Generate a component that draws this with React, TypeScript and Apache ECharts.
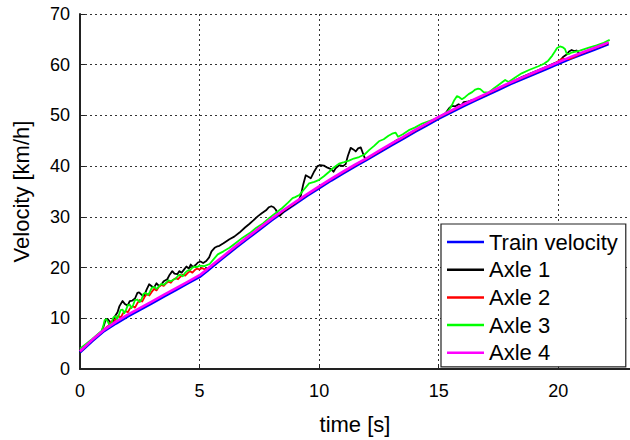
import React, { useEffect, useRef } from "react";
import * as echarts from "echarts";

const seriesNames = ["Train velocity", "Axle 1", "Axle 2", "Axle 3", "Axle 4"];
const seriesColors = ["#0000ff", "#000000", "#ff0000", "#00ff00", "#ff00ff"];
const xTicks = [0, 5, 10, 15, 20];
const yTicks = [0, 10, 20, 30, 40, 50, 60, 70];

const trainVelocity: [number, number][] = [
  [0, 3.3], [0.5, 5.5], [1, 7.5], [1.5, 9.0], [2, 10.4], [2.5, 11.7], [3, 13.0], [3.5, 14.3],
  [4, 15.6], [4.5, 16.9], [5, 18.2], [5.3, 19.3], [5.5, 20.1], [6, 22.0], [6.5, 23.9], [7, 25.7],
  [7.5, 27.5], [8, 29.3], [8.5, 31.0], [9, 32.6], [9.5, 34.2], [10, 35.7], [10.5, 37.2], [11, 38.6],
  [11.5, 40.0], [12, 41.3], [12.5, 42.7], [13, 44.1], [13.5, 45.4], [14, 46.8], [14.5, 48.1],
  [15, 49.4], [15.5, 50.6], [16, 51.8], [16.5, 52.9], [17, 54.0], [17.5, 55.1], [18, 56.2],
  [18.5, 57.2], [19, 58.2], [19.5, 59.2], [20, 60.2], [20.5, 61.2], [21, 62.1], [21.5, 63.0],
  [22, 63.9], [22.1, 64.1],
];

const axle1: [number, number][] = [
  [0, 3.5], [0.5, 5.7], [0.9, 7.3], [1.0, 8.6], [1.08, 9.8], [1.15, 9.9], [1.25, 9.3], [1.36, 9.2],
  [1.45, 10.3], [1.57, 11.2], [1.65, 12.4], [1.78, 13.4], [1.88, 12.8], [1.99, 12.5], [2.08, 13.4],
  [2.19, 13.5], [2.3, 13.9], [2.4, 15.0], [2.47, 15.1], [2.58, 14.6], [2.68, 14.4], [2.78, 15.6],
  [2.89, 16.7], [3.0, 16.3], [3.1, 16.1], [3.2, 16.9], [3.3, 16.4], [3.38, 16.5], [3.5, 17.3],
  [3.65, 17.7], [3.75, 18.6], [3.86, 19.3], [3.95, 18.8], [4.07, 18.7], [4.15, 19.3], [4.25, 19.0],
  [4.35, 19.6], [4.45, 20.2], [4.55, 19.8], [4.63, 20.6], [4.73, 20.1], [4.83, 20.5], [4.93, 21.0],
  [5.04, 21.2], [5.15, 20.9], [5.28, 21.3], [5.4, 22.0], [5.5, 23.2], [5.63, 23.9], [5.75, 24.2],
  [5.83, 24.3], [6.0, 24.8], [6.25, 25.6], [6.45, 26.1], [6.67, 26.9], [6.9, 27.9], [7.08, 28.6],
  [7.25, 29.3], [7.43, 30.1], [7.6, 30.7], [7.78, 31.3], [7.9, 31.9], [8.0, 32.1], [8.1, 31.9],
  [8.19, 31.4], [8.28, 30.5], [8.35, 30.2], [8.5, 31.0], [8.75, 31.8], [9.0, 32.7], [9.15, 33.3],
  [9.24, 34.3], [9.34, 36.5], [9.44, 38.2], [9.55, 37.9], [9.65, 37.6], [9.8, 39.0], [9.93, 40.0],
  [10.05, 40.2], [10.2, 40.1], [10.35, 39.7], [10.5, 39.4], [10.6, 38.9], [10.69, 39.6],
  [10.85, 40.2], [11.0, 40.0], [11.11, 40.4], [11.2, 42.0], [11.32, 43.6], [11.43, 43.3],
  [11.53, 42.9], [11.63, 43.5], [11.74, 43.7], [11.85, 42.3], [11.92, 41.5], [12.0, 41.5],
  [12.5, 42.9], [13.0, 44.3], [13.27, 45.2], [13.5, 45.6], [14.0, 47.0], [14.5, 48.3], [15.0, 49.6],
  [15.3, 50.5], [15.45, 51.5], [15.55, 51.9], [15.7, 51.8], [15.83, 52.2], [15.95, 52.0],
  [16.04, 52.6], [16.2, 52.7], [16.39, 53.0], [16.5, 53.1], [17.0, 54.2], [17.5, 55.3], [18.0, 56.5],
  [18.5, 57.6], [19.0, 58.6], [19.5, 59.6], [19.8, 60.2], [20.0, 60.6], [20.07, 60.8], [20.2, 61.5],
  [20.35, 62.0], [20.45, 62.6], [20.56, 62.9], [20.66, 62.7], [20.76, 62.8], [20.9, 62.2],
  [21.0, 62.3], [21.5, 63.2], [22.0, 64.0], [22.1, 64.3],
];

const axle2: [number, number][] = [
  [0, 3.5], [0.5, 5.7], [1.0, 7.8], [1.2, 8.6], [1.3, 9.4], [1.4, 9.1], [1.5, 9.9], [1.6, 10.5],
  [1.7, 10.1], [1.8, 11.0], [1.9, 11.4], [2.0, 11.2], [2.1, 12.0], [2.2, 12.4], [2.3, 12.1],
  [2.4, 13.0], [2.5, 13.6], [2.6, 13.3], [2.7, 14.2], [2.8, 14.8], [2.9, 14.5], [3.0, 15.2],
  [3.1, 15.8], [3.2, 15.5], [3.3, 16.2], [3.4, 16.6], [3.5, 16.4], [3.6, 16.9], [3.7, 17.2],
  [3.8, 17.0], [3.9, 17.6], [4.0, 17.9], [4.1, 17.7], [4.2, 18.2], [4.3, 18.6], [4.4, 18.4],
  [4.5, 18.9], [4.6, 19.3], [4.7, 19.0], [4.8, 19.5], [4.9, 19.8], [5.0, 19.6], [5.1, 19.9],
  [5.2, 19.7], [5.35, 19.8], [5.5, 20.3], [6, 22.2], [6.5, 24.1], [7, 25.9], [7.5, 27.7], [8, 29.5],
  [8.5, 31.2], [9, 32.8], [9.5, 34.4], [10, 35.9], [10.5, 37.4], [11, 38.8], [11.5, 40.2],
  [12, 41.5], [12.5, 42.9], [13, 44.3], [13.5, 45.6], [14, 47.0], [14.5, 48.3], [15, 49.6],
  [15.5, 50.8], [16, 52.0], [16.5, 53.1], [17, 54.2], [17.5, 55.3], [18, 56.4], [18.5, 57.4],
  [19, 58.4], [19.5, 59.4], [19.7, 59.8], [19.9, 60.3], [20.0, 60.7], [20.1, 61.0], [20.2, 61.2],
  [20.3, 61.1], [20.45, 61.1], [20.6, 61.4], [21, 62.3], [21.5, 63.2], [22, 64.1], [22.1, 64.3],
];

const axle3: [number, number][] = [
  [0, 4.0], [0.5, 5.9], [0.9, 7.5], [0.97, 8.4], [1.03, 9.6], [1.1, 9.8], [1.18, 9.2], [1.25, 8.4],
  [1.32, 9.2], [1.4, 10.2], [1.48, 10.4], [1.55, 9.8], [1.62, 10.6], [1.7, 11.6], [1.78, 11.7],
  [1.85, 11.0], [1.92, 11.6], [2.0, 12.6], [2.08, 12.7], [2.15, 12.0], [2.22, 12.6], [2.3, 13.6],
  [2.4, 13.7], [2.5, 13.2], [2.58, 13.8], [2.65, 14.8], [2.75, 15.0], [2.85, 14.6], [2.92, 15.2],
  [3.0, 16.0], [3.1, 16.2], [3.2, 15.8], [3.3, 16.3], [3.4, 16.8], [3.5, 16.6], [3.6, 17.0],
  [3.7, 17.5], [3.8, 17.3], [3.9, 17.6], [4.0, 17.8], [4.1, 18.4], [4.2, 18.6], [4.3, 18.3],
  [4.4, 19.0], [4.5, 19.4], [4.6, 19.5], [4.7, 20.0], [4.8, 20.2], [4.9, 20.1], [5.0, 20.4],
  [5.2, 20.3], [5.42, 20.7], [5.6, 21.7], [5.76, 22.6], [6.0, 23.2], [6.25, 23.9], [6.5, 24.8],
  [6.8, 25.9], [7.1, 26.8], [7.36, 27.8], [7.65, 28.7], [7.92, 29.8], [8.2, 30.8], [8.47, 31.8],
  [8.7, 32.8], [8.89, 33.7], [9.0, 33.9], [9.17, 34.3], [9.35, 35.3], [9.58, 36.6], [9.8, 36.9],
  [10.0, 37.3], [10.2, 38.0], [10.42, 38.9], [10.6, 39.7], [10.83, 40.5], [11.05, 40.8],
  [11.25, 41.1], [11.45, 41.5], [11.67, 41.8], [11.9, 42.3], [12.1, 43.2], [12.3, 44.0],
  [12.5, 44.9], [12.7, 45.3], [12.9, 46.0], [13.05, 46.4], [13.2, 46.6], [13.3, 45.8], [13.5, 46.3],
  [13.75, 47.1], [14.0, 47.6], [14.31, 48.4], [14.6, 48.9], [14.86, 49.3], [15.1, 49.9],
  [15.35, 50.6], [15.45, 51.2], [15.56, 52.1], [15.65, 53.0], [15.76, 53.8], [15.86, 53.6],
  [15.97, 53.2], [16.1, 53.6], [16.25, 54.2], [16.4, 54.6], [16.53, 55.1], [16.65, 55.3],
  [16.74, 55.2], [16.88, 54.6], [17.08, 54.5], [17.3, 55.3], [17.5, 56.0], [17.78, 57.0],
  [17.92, 56.6], [18.2, 57.5], [18.47, 58.3], [18.8, 59.0], [19.17, 59.7], [19.4, 60.2],
  [19.58, 60.8], [19.75, 61.8], [19.86, 62.6], [19.95, 63.3], [20.07, 63.6], [20.2, 63.4],
  [20.28, 63.1], [20.35, 62.2], [20.45, 62.1], [20.56, 62.4], [20.9, 62.8], [21.25, 63.3],
  [21.6, 63.8], [21.9, 64.3], [22.15, 64.9],
];

const axle4: [number, number][] = [
  [0, 3.5], [0.5, 5.7], [1, 7.7], [1.5, 9.3], [2, 10.7], [2.5, 12.0], [3, 13.3], [3.5, 14.6],
  [4, 15.9], [4.5, 17.2], [5, 18.5], [5.3, 19.6], [5.5, 20.4], [6, 22.3], [6.5, 24.2], [7, 26.0],
  [7.5, 27.8], [8, 29.6], [8.5, 31.3], [9, 32.9], [9.5, 34.5], [10, 36.0], [10.5, 37.5], [11, 38.9],
  [11.5, 40.3], [12, 41.6], [12.5, 43.0], [13, 44.4], [13.5, 45.7], [14, 47.1], [14.5, 48.4],
  [15, 49.7], [15.5, 50.9], [16, 52.1], [16.5, 53.2], [17, 54.3], [17.5, 55.4], [18, 56.5],
  [18.5, 57.5], [19, 58.5], [19.5, 59.5], [20, 60.5], [20.5, 61.5], [21, 62.4], [21.5, 63.3],
  [22, 64.2], [22.1, 64.4],
];

const seriesData = [trainVelocity, axle1, axle2, axle3, axle4];
const seriesWidths = [3, 1.8, 1.8, 1.8, 2.6];

const FONT = "'Liberation Sans', Arial, sans-serif";

export default function App() {
  const ref = useRef<HTMLDivElement>(null);
  useEffect(() => {
    if (!ref.current) return;
    const chart = echarts.init(ref.current, undefined, { renderer: "svg" });
    chart.setOption({
      animation: false,
      backgroundColor: "#ffffff",
      textStyle: { fontFamily: FONT },
      grid: { left: 80, top: 14, bottom: 67, right: -2, containLabel: false },
      xAxis: {
        type: "value",
        min: 0,
        max: 23,
        interval: 5,
        name: "time [s]",
        nameLocation: "middle",
        nameGap: 44,
        nameTextStyle: { color: "#000", fontSize: 22, fontFamily: FONT },
        axisLine: { show: true, lineStyle: { color: "#222", width: 2 } },
        axisTick: { show: true, inside: true, length: 5, lineStyle: { color: "#222" } },
        axisLabel: {
          color: "#000",
          fontSize: 18,
          fontFamily: FONT,
          margin: 13,
          customValues: xTicks,
        },
        splitLine: { show: true, lineStyle: { color: "#333", width: 1, type: [2, 3] } },
      },
      yAxis: {
        type: "value",
        min: 0,
        max: 70,
        interval: 10,
        name: "Velocity [km/h]",
        nameLocation: "middle",
        nameGap: 48,
        nameTextStyle: { color: "#000", fontSize: 22, fontFamily: FONT },
        axisLine: { show: true, lineStyle: { color: "#222", width: 2 } },
        axisTick: { show: true, inside: true, length: 5, lineStyle: { color: "#222" } },
        axisLabel: { color: "#000", fontSize: 18, fontFamily: FONT, margin: 10, customValues: yTicks },
        splitLine: { show: true, lineStyle: { color: "#333", width: 1, type: [2, 3] } },
      },
      legend: {
        orient: "vertical",
        left: 441,
        top: 224,
        padding: [7, 8, 3, 6],
        itemGap: 5.7,
        itemWidth: 37,
        itemHeight: 2.5,
        icon: "rect",
        backgroundColor: "#fff",
        borderColor: "#222",
        borderWidth: 1.2,
        borderRadius: 0,
        textStyle: { color: "#000", fontSize: 22, fontFamily: FONT },
        data: seriesNames,
      },
      series: seriesNames.map((name, i) => ({
        name,
        type: "line",
        data: seriesData[i],
        symbol: "none",
        showSymbol: false,
        color: seriesColors[i],
        itemStyle: { color: seriesColors[i] },
        lineStyle: { color: seriesColors[i], width: seriesWidths[i], join: "round" },
        z: 2 + i,
      })),
    });
    return () => chart.dispose();
  }, []);
  return (
    <div style={{ position: "absolute", left: 0, top: 0, width: 630, height: 440, overflow: "hidden" }}>
      <div ref={ref} style={{ width: 630, height: 440 }} />
    </div>
  );
}
